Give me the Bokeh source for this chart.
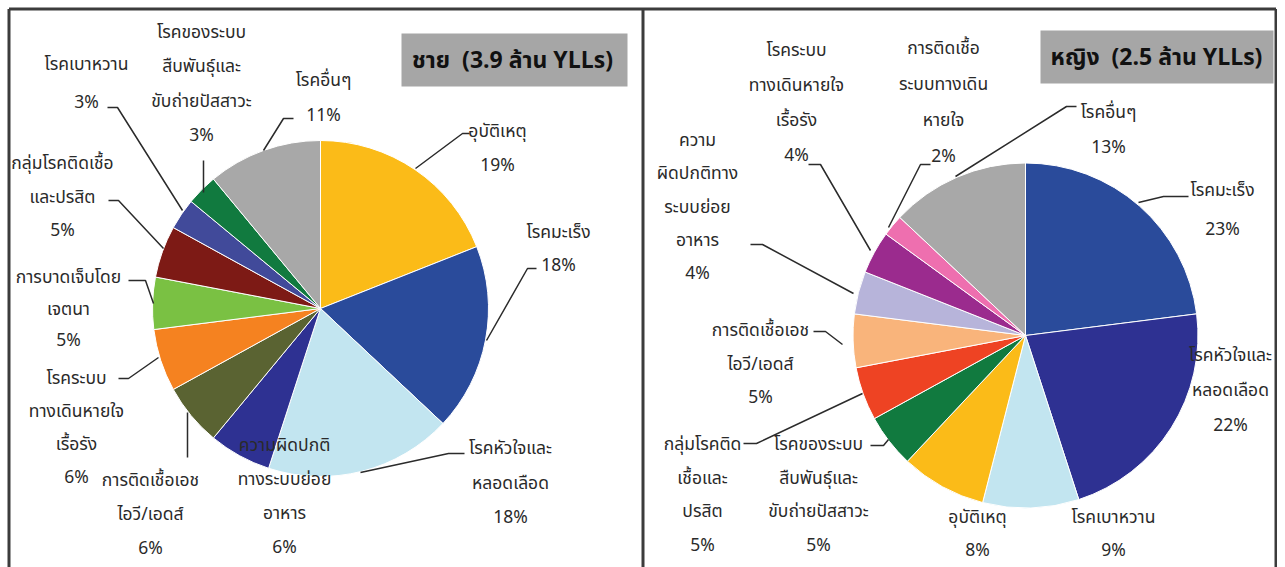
import numpy as np
from bokeh.plotting import figure
from bokeh.models import Range1d, ColumnDataSource
from bokeh.core.properties import value
from bokeh.embed import file_html
from bokeh.resources import INLINE

# ---------------- data ----------------
male_title = "ชาย\u00a0\u00a0(3.9 ล้าน YLLs)"
male_labels = [
    "อุบัติเหตุ",
    "โรคมะเร็ง",
    "โรคหัวใจและ\nหลอดเลือด",
    "ความผิดปกติ\nทางระบบย่อย\nอาหาร",
    "การติดเชื้อเอช\nไอวี/เอดส์",
    "โรคระบบ\nทางเดินหายใจ\nเรื้อรัง",
    "การบาดเจ็บโดย\nเจตนา",
    "กลุ่มโรคติดเชื้อ\nและปรสิต",
    "โรคเบาหวาน",
    "โรคของระบบ\nสืบพันธุ์และ\nขับถ่ายปัสสาวะ",
    "โรคอื่นๆ",
]
male_values = [19, 18, 18, 6, 6, 6, 5, 5, 3, 3, 11]
male_colors = ["#FBBB18", "#2A4B9B", "#C2E5F0", "#2E3192", "#5A6332", "#F58220",
               "#7AC143", "#7D1A15", "#414A9A", "#117A3F", "#A8A8A8"]

female_title = "หญิง\u00a0\u00a0(2.5 ล้าน YLLs)"
female_labels = [
    "โรคมะเร็ง",
    "โรคหัวใจและ\nหลอดเลือด",
    "โรคเบาหวาน",
    "อุบัติเหตุ",
    "โรคของระบบ\nสืบพันธุ์และ\nขับถ่ายปัสสาวะ",
    "กลุ่มโรคติด\nเชื้อและ\nปรสิต",
    "การติดเชื้อเอช\nไอวี/เอดส์",
    "ความ\nผิดปกติทาง\nระบบย่อย\nอาหาร",
    "โรคระบบ\nทางเดินหายใจ\nเรื้อรัง",
    "การติดเชื้อ\nระบบทางเดิน\nหายใจ",
    "โรคอื่นๆ",
]
female_values = [23, 22, 9, 8, 5, 5, 5, 4, 4, 2, 13]
female_colors = ["#2A4B9B", "#2E3192", "#C2E5F0", "#FBBB18", "#117A3F", "#EE4323",
                 "#F9B47B", "#B7B4DA", "#9B2B8E", "#EE6FAF", "#A8A8A8"]

# ---------------- layout (image pixel coordinates) ----------------
IMG_H = 567
W, H = 1277, 567


def Y(py):
    return IMG_H - py


male_layout = dict(
    cx=320, cy=308, r=168,
    box=(401, 627, 33, 86), title_xy=(512, 60),
    label_pos=[(497, 131, 34), (558, 232, 33), (510, 448, 34.5), (284, 445, 34),
               (150, 480, 34), (76, 378, 33), (68, 277, 31.5), (62, 163, 33.5),
               (86, 64, 38), (201, 32, 34.3), (323, 80, 35)],
    leaders=[
        [(415, 168), (462, 133), (469, 133)],
        [(486, 340), (527, 268), (536, 268)],
        [(360, 472), (448, 453), (464, 453)],
        None,
        [(187, 412), (187, 457)],
        [(118, 378), (128, 378), (158, 357)],
        [(128, 280), (145, 280), (153, 303)],
        [(108, 200), (118, 200), (163, 248)],
        [(107, 107), (117, 107), (182, 210)],
        [(203, 160), (203, 192)],
        [(263, 150), (283, 118), (293, 118)],
    ],
)

female_layout = dict(
    cx=1025, cy=335, r=172.5,
    box=(1040, 1273, 30, 83), title_xy=(1156, 57),
    label_pos=[(1222, 190, 39), (1230, 355, 35), (1113, 517, 33), (977, 517, 33),
               (818, 444, 33.7), (702, 444, 33.7), (760, 330, 33.5), (697, 140, 33.3),
               (796, 50, 35), (943, 48, 36), (1108, 112, 35)],
    leaders=[
        [(1138, 202), (1163, 196), (1188, 196)],
        None,
        None,
        None,
        [(870, 445), (883, 445), (888, 439)],
        [(743, 443), (756, 443), (862, 393)],
        [(813, 331), (825, 331), (842, 344)],
        [(750, 244), (762, 244), (853, 293)],
        [(808, 164), (820, 164), (870, 250)],
        [(930, 164), (920, 164), (888, 227)],
        [(955, 176), (1066, 106), (1076, 106)],
    ],
)

FONT = "'Noto Sans Thai', 'Tahoma', 'Noto Sans', sans-serif"
TEXT_COLOR = "#2a2a2a"

p = figure(width=W, height=H, x_range=Range1d(0, W), y_range=Range1d(Y(H), Y(0)),
           output_backend="svg", toolbar_location=None, min_border=0,
           background_fill_color="white", border_fill_color="white")
p.axis.visible = False
p.grid.visible = False
p.outline_line_color = None


def draw_panel(labels, values, colors, title, lay):
    vals = np.array(values, dtype=float)
    frac = vals / vals.sum()
    cum = np.concatenate([[0.0], np.cumsum(frac)])
    start = np.pi / 2 - 2 * np.pi * cum[:-1]
    end = np.pi / 2 - 2 * np.pi * cum[1:]
    src = ColumnDataSource(dict(start=start, end=end, color=colors))
    p.wedge(x=lay["cx"], y=Y(lay["cy"]), radius=lay["r"], radius_units="screen",
            start_angle="start", end_angle="end", direction="clock",
            fill_color="color", line_color="white", line_width=1, source=src)

    # leader lines
    xs, ys = [], []
    for ld in lay["leaders"]:
        if ld is None:
            continue
        xs.append([pt[0] for pt in ld])
        ys.append([Y(pt[1]) for pt in ld])
    p.multi_line(xs, ys, line_color="#2b2b2b", line_width=1.5)

    # labels
    tx, ty, tt = [], [], []
    for lab, v, (lx, ly, sp) in zip(labels, values, lay["label_pos"]):
        lines = lab.split("\n") + [f"{v}%"]
        for k, ln in enumerate(lines):
            tx.append(lx)
            ty.append(Y(ly + k * sp))
            tt.append(ln)
    p.text(x=tx, y=ty, text=tt, text_align="center", text_baseline="middle",
           text_font=value(FONT), text_font_size="17.5px", text_color=TEXT_COLOR)

    # title box
    l, r, t, b = lay["box"]
    p.quad(left=l, right=r, top=Y(t), bottom=Y(b), fill_color="#A6A6A6", line_color=None)
    p.text(x=[lay["title_xy"][0]], y=[Y(lay["title_xy"][1])], text=[title],
           text_align="center", text_baseline="middle", text_font=value(FONT),
           text_font_size="23px", text_font_style="bold", text_color="#111111")


draw_panel(male_labels, male_values, male_colors, male_title, male_layout)
draw_panel(female_labels, female_values, female_colors, female_title, female_layout)

# panel frames: outer left, shared middle, outer right, and top edge
frame_x = [[8.5, 8.5], [642.5, 642.5], [1275.5, 1275.5], [8.5, 1275.5]]
frame_y = [[Y(600), Y(8.5)], [Y(600), Y(8.5)], [Y(600), Y(8.5)], [Y(8.5), Y(8.5)]]
p.multi_line(frame_x, frame_y, line_color="#3c3c3c", line_width=3)

open("out.html", "w").write(file_html(p, INLINE))
